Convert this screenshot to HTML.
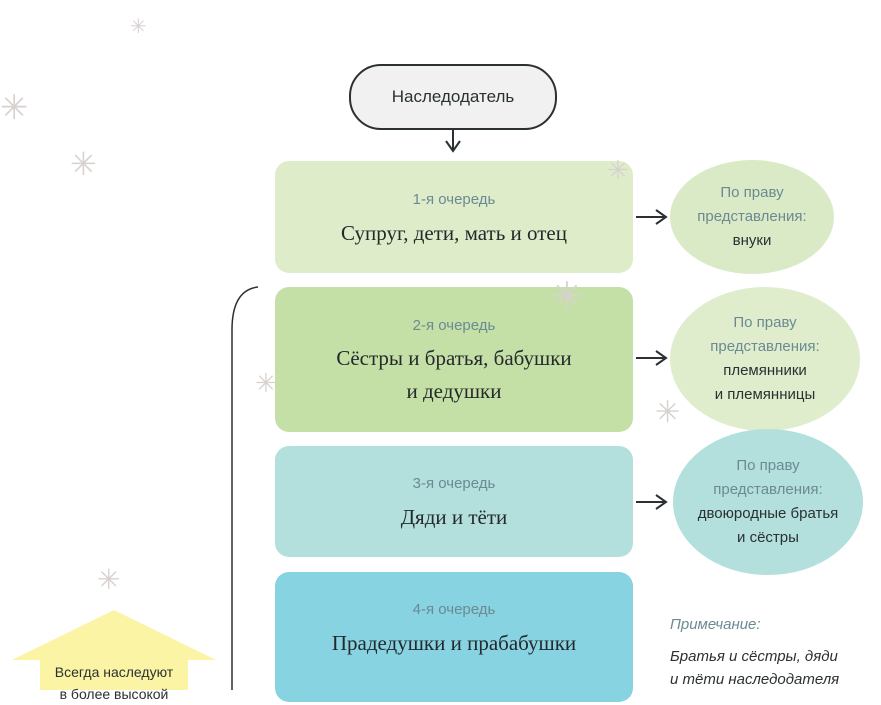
<!DOCTYPE html>
<html><head><meta charset="utf-8"><style>
body{margin:0;width:881px;height:690px;overflow:hidden;background:#fff;position:relative;font-family:"Liberation Sans","DejaVu Sans",sans-serif}
.abs{position:absolute}
.box{position:absolute;left:275px;width:358px;border-radius:14px;text-align:center;color:#2e3436}
.sub{font-size:15px;color:#6b8a93}
.main{font-family:"Liberation Serif","DejaVu Serif",serif;font-size:21px;color:#24292c;line-height:33px}
.ell{position:absolute;border-radius:50%;display:flex;flex-direction:column;align-items:center;justify-content:center;text-align:center;font-size:15px;line-height:24px;color:#2b3033}
.ell .g{color:#6b8a93}
.sf{position:absolute;color:#d8d2cf;font-size:28px}
</style></head><body>
<svg class="abs" style="left:0;top:0" width="881" height="690">
<defs><marker id="a" markerWidth="14" markerHeight="18" refX="12" refY="9" orient="auto" markerUnits="userSpaceOnUse"><path d="M2,2 L12,9 L2,16" fill="none" stroke="#2b3033" stroke-width="2"/></marker></defs>
<line x1="453" y1="126" x2="453" y2="151" stroke="#2b3033" stroke-width="2" marker-end="url(#a)"/>
<line x1="636" y1="217" x2="666" y2="217" stroke="#2b3033" stroke-width="2" marker-end="url(#a)"/>
<line x1="636" y1="358" x2="666" y2="358" stroke="#2b3033" stroke-width="2" marker-end="url(#a)"/>
<line x1="636" y1="502" x2="666" y2="502" stroke="#2b3033" stroke-width="2" marker-end="url(#a)"/>
<path d="M258,287 Q232,290 232,330 L232,690" fill="none" stroke="#2b3033" stroke-width="1.5"/>
<polygon points="114,610 216,660 188,660 188,690 40,690 40,660 12,660" fill="#fbf4a4"/>
</svg>
<div class="abs" style="left:349px;top:64px;width:204px;height:62px;border:2px solid #2b3033;border-radius:32px;background:#f1f1f1;display:flex;align-items:center;justify-content:center;font-size:17px;color:#2b3033">Наследодатель</div>
<div class="box" style="top:161px;height:112px;background:#deecca"><div class="sub" style="margin-top:30px">1-я очередь</div><div class="main" style="margin-top:9px">Супруг, дети, мать и отец</div></div>
<div class="box" style="top:287px;height:145px;background:#c5e0a6"><div class="sub" style="margin-top:30px">2-я очередь</div><div class="main" style="margin-top:8px">Сёстры и братья, бабушки<br>и дедушки</div></div>
<div class="box" style="top:446px;height:111px;background:#b3e0dc"><div class="sub" style="margin-top:29px">3-я очередь</div><div class="main" style="margin-top:9px">Дяди и тёти</div></div>
<div class="box" style="top:572px;height:130px;background:#87d3e1"><div class="sub" style="margin-top:29px">4-я очередь</div><div class="main" style="margin-top:9px">Прадедушки и прабабушки</div></div>
<div class="ell" style="left:670px;top:160px;width:164px;height:114px;background:#dbeac6"><span class="g">По праву</span><span class="g">представления:</span><span>внуки</span></div>
<div class="ell" style="left:670px;top:287px;width:190px;height:144px;background:#dfedcc"><span class="g">По праву</span><span class="g">представления:</span><span>племянники</span><span>и племянницы</span></div>
<div class="ell" style="left:673px;top:429px;width:190px;height:146px;background:#b3e0dc"><span class="g">По праву</span><span class="g">представления:</span><span>двоюродные братья</span><span>и сёстры</span></div>
<div class="abs" style="left:670px;top:616px;font-style:italic;font-size:15px;color:#6b8a93">Примечание:</div>
<div class="abs" style="left:670px;top:645px;font-style:italic;font-size:15px;line-height:23px;color:#2b3033">Братья и сёстры, дяди<br>и тёти наследодателя</div>
<div class="abs" style="left:40px;top:661px;width:148px;text-align:center;font-size:14px;line-height:22px;color:#2b3033">Всегда наследуют<br>в более высокой</div>
<div class="sf" style="left:130px;top:14px;font-size:20px">✳</div>
<div class="sf" style="left:0;top:88px;font-size:34px">✳</div>
<div class="sf" style="left:70px;top:145px;font-size:32px">✳</div>
<div class="sf" style="left:607px;top:155px;font-size:26px">✳</div>
<div class="sf" style="left:551px;top:274px;font-size:38px">✳</div>
<div class="sf" style="left:255px;top:368px;font-size:26px">✳</div>
<div class="sf" style="left:655px;top:395px;font-size:30px">✳</div>
<div class="sf" style="left:97px;top:563px;font-size:28px">✳</div>
</body></html>
